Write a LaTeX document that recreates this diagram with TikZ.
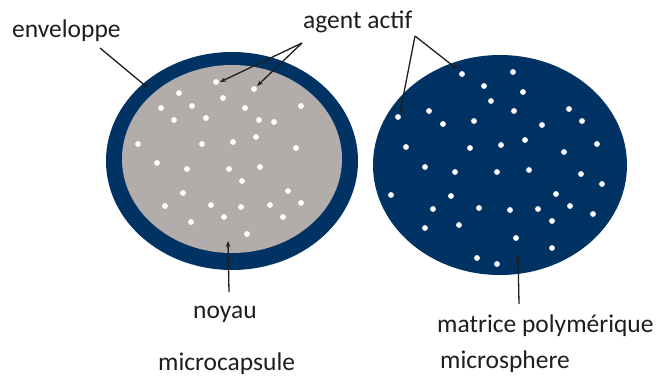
\documentclass[tikz,border=0pt]{standalone}
\usepackage{fontspec}
\setmainfont{Carlito}
\usetikzlibrary{arrows.meta}
\definecolor{navy}{RGB}{0,51,100}
\definecolor{core}{RGB}{178,172,170}
\definecolor{ink}{RGB}{30,30,30}
\tikzset{
  lbl/.style={inner sep=0pt, anchor=base west, text=ink, font=\fontsize{25.5}{30}\selectfont},
  arr/.style={draw=ink, line width=1.3pt, -{Stealth[length=6pt,width=4.5pt]}},
  dot/.style={fill=white}
}
\begin{document}
\begin{tikzpicture}[x=1pt,y=-1pt]
\useasboundingbox (0,0) rectangle (659,376);
% microcapsule
\fill[navy] (232,161) ellipse [x radius=126, y radius=109];
\fill[core] (232,159) ellipse [x radius=110, y radius=94];
\foreach \p in {(216,82),(254,89),(179,93),(223,98),(161,108),(192,106),(245,108),(301,106),
  (174,120),(206,118),(259,120),(274,122),(256,137),(138,144),(202,144),(233,142),(296,148),
  (157,163),(187,169),(229,169),(260,167),(242,181),(288,191),(183,193),(165,206),(211,205),
  (241,207),(270,205),(301,203),(191,222),(224,217),(283,217),(247,234)}
  \fill[dot] \p circle (2.9);
% microsphere
\fill[navy] (500,165) ellipse [x radius=127, y radius=110];
\foreach \p in {(462,74),(513,72),(484,86),(523,92),(491,101),(569,109),(398,117),(429,111),
  (514,111),(443,124),(474,121),(542,125),(582,121),(406,147),(470,148),(501,145),(525,140),
  (564,152),(597,144),(425,167),(455,172),(497,172),(529,170),(581,174),(602,184),(391,195),
  (451,196),(556,194),(433,209),(479,208),(510,210),(538,209),(570,206),(593,214),(425,228),
  (459,225),(552,221),(516,238),(552,248),(477,258),(497,264)}
  \fill[dot] \p circle (2.9);
% labels
\node[lbl] (env) at (12,37) {enveloppe};
\node[lbl] (agent) at (303,28) {agent actif};
\node[lbl] (noyau) at (193,318) {noyau};
\node[lbl] (mcap) at (158,370) {microcapsule};
\node[lbl] (matr) at (437,332) {matrice polymérique};
\node[lbl] (msph) at (440,368) {microsphere};
% connector ends
\coordinate (envS) at (100,48);
\coordinate (envT) at (148,88);
\coordinate (agL) at (302,43);
\coordinate (agT1) at (220,82);
\coordinate (agT2) at (257,86);
\coordinate (agR) at (415,36);
\coordinate (agT3) at (457,69);
\coordinate (agT4) at (400,113);
\coordinate (noyS) at (229,292);
\coordinate (noyT) at (228,241);
\coordinate (matS) at (519,304);
\coordinate (matT) at (518,254);
% connectors
\draw[arr] (envS) -- (envT);
\draw[arr] (agL) -- (agT1);
\draw[arr] (agL) -- (agT2);
\draw[arr] (agR) -- (agT3);
\draw[arr] (agR) -- (agT4);
\draw[arr] (noyS) -- (noyT);
\draw[arr] (matS) -- (matT);
\end{tikzpicture}
\end{document}
